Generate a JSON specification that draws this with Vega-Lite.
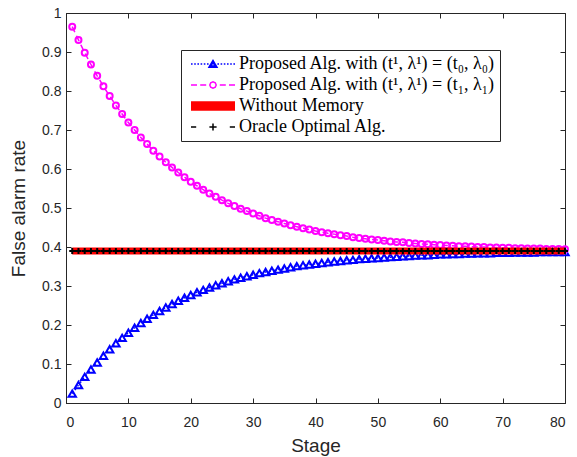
{
  "$schema": "https://vega.github.io/schema/vega-lite/v6.json",
  "width": 499,
  "height": 390,
  "autosize": "none",
  "padding": {"left": 66, "top": 13, "right": 12, "bottom": 54},
  "background": "white",
  "config": {
    "view": {"stroke": "#262626", "strokeWidth": 1},
    "axis": {
      "labelFont": "Liberation Sans", "labelFontSize": 14, "labelColor": "#262626",
      "titleFont": "Liberation Sans", "titleFontSize": 19, "titleFontWeight": "normal", "titleColor": "#262626",
      "domainColor": "#262626", "tickColor": "#262626", "tickSize": -5, "grid": false
    },
    "legend": {"labelFont": "Liberation Serif", "labelFontSize": 18, "labelColor": "#000000"}
  },
  "data": {"values": [
    {"stage":1,"a":0.024,"b":0.965,"c":0.39},{"stage":2,"a":0.046,"b":0.931,"c":0.39},{"stage":3,"a":0.067,"b":0.898,"c":0.39},{"stage":4,"a":0.086,"b":0.868,"c":0.39},
    {"stage":5,"a":0.104,"b":0.839,"c":0.39},{"stage":6,"a":0.121,"b":0.812,"c":0.39},{"stage":7,"a":0.138,"b":0.787,"c":0.39},{"stage":8,"a":0.153,"b":0.763,"c":0.39},
    {"stage":9,"a":0.167,"b":0.741,"c":0.39},{"stage":10,"a":0.180,"b":0.719,"c":0.39},{"stage":11,"a":0.193,"b":0.700,"c":0.39},{"stage":12,"a":0.205,"b":0.681,"c":0.39},
    {"stage":13,"a":0.216,"b":0.664,"c":0.39},{"stage":14,"a":0.226,"b":0.647,"c":0.39},{"stage":15,"a":0.236,"b":0.632,"c":0.39},{"stage":16,"a":0.245,"b":0.617,"c":0.39},
    {"stage":17,"a":0.254,"b":0.604,"c":0.39},{"stage":18,"a":0.262,"b":0.591,"c":0.39},{"stage":19,"a":0.270,"b":0.579,"c":0.39},{"stage":20,"a":0.277,"b":0.567,"c":0.39},
    {"stage":21,"a":0.284,"b":0.557,"c":0.39},{"stage":22,"a":0.290,"b":0.547,"c":0.39},{"stage":23,"a":0.296,"b":0.537,"c":0.39},{"stage":24,"a":0.302,"b":0.529,"c":0.39},
    {"stage":25,"a":0.307,"b":0.520,"c":0.39},{"stage":26,"a":0.312,"b":0.512,"c":0.39},{"stage":27,"a":0.317,"b":0.505,"c":0.39},{"stage":28,"a":0.321,"b":0.498,"c":0.39},
    {"stage":29,"a":0.325,"b":0.492,"c":0.39},{"stage":30,"a":0.329,"b":0.486,"c":0.39},{"stage":31,"a":0.333,"b":0.480,"c":0.39},{"stage":32,"a":0.336,"b":0.474,"c":0.39},
    {"stage":33,"a":0.339,"b":0.469,"c":0.39},{"stage":34,"a":0.342,"b":0.465,"c":0.39},{"stage":35,"a":0.345,"b":0.460,"c":0.39},{"stage":36,"a":0.348,"b":0.456,"c":0.39},
    {"stage":37,"a":0.351,"b":0.452,"c":0.39},{"stage":38,"a":0.353,"b":0.448,"c":0.39},{"stage":39,"a":0.355,"b":0.445,"c":0.39},{"stage":40,"a":0.357,"b":0.441,"c":0.39},
    {"stage":41,"a":0.359,"b":0.438,"c":0.39},{"stage":42,"a":0.361,"b":0.435,"c":0.39},{"stage":43,"a":0.363,"b":0.433,"c":0.39},{"stage":44,"a":0.364,"b":0.430,"c":0.39},
    {"stage":45,"a":0.366,"b":0.428,"c":0.39},{"stage":46,"a":0.367,"b":0.425,"c":0.39},{"stage":47,"a":0.369,"b":0.423,"c":0.39},{"stage":48,"a":0.370,"b":0.421,"c":0.39},
    {"stage":49,"a":0.371,"b":0.419,"c":0.39},{"stage":50,"a":0.372,"b":0.418,"c":0.39},{"stage":51,"a":0.373,"b":0.416,"c":0.39},{"stage":52,"a":0.374,"b":0.414,"c":0.39},
    {"stage":53,"a":0.375,"b":0.413,"c":0.39},{"stage":54,"a":0.376,"b":0.412,"c":0.39},{"stage":55,"a":0.377,"b":0.410,"c":0.39},{"stage":56,"a":0.378,"b":0.409,"c":0.39},
    {"stage":57,"a":0.379,"b":0.408,"c":0.39},{"stage":58,"a":0.379,"b":0.407,"c":0.39},{"stage":59,"a":0.380,"b":0.406,"c":0.39},{"stage":60,"a":0.381,"b":0.405,"c":0.39},
    {"stage":61,"a":0.381,"b":0.404,"c":0.39},{"stage":62,"a":0.382,"b":0.403,"c":0.39},{"stage":63,"a":0.382,"b":0.402,"c":0.39},{"stage":64,"a":0.383,"b":0.402,"c":0.39},
    {"stage":65,"a":0.383,"b":0.401,"c":0.39},{"stage":66,"a":0.384,"b":0.400,"c":0.39},{"stage":67,"a":0.384,"b":0.400,"c":0.39},{"stage":68,"a":0.384,"b":0.399,"c":0.39},
    {"stage":69,"a":0.385,"b":0.399,"c":0.39},{"stage":70,"a":0.385,"b":0.398,"c":0.39},{"stage":71,"a":0.385,"b":0.398,"c":0.39},{"stage":72,"a":0.386,"b":0.397,"c":0.39},
    {"stage":73,"a":0.386,"b":0.397,"c":0.39},{"stage":74,"a":0.386,"b":0.396,"c":0.39},{"stage":75,"a":0.386,"b":0.396,"c":0.39},{"stage":76,"a":0.387,"b":0.396,"c":0.39},
    {"stage":77,"a":0.387,"b":0.395,"c":0.39},{"stage":78,"a":0.387,"b":0.395,"c":0.39},{"stage":79,"a":0.387,"b":0.395,"c":0.39},{"stage":80,"a":0.387,"b":0.394,"c":0.39}
  ]},
  "resolve": {"axis": {"x": "independent", "y": "independent"}},
  "layer": [
    {
      "mark": {"type": "line", "color": "#0000ff", "strokeWidth": 1.5, "strokeDash": [1.5, 3]},
      "encoding": {
        "x": {"field": "stage", "type": "quantitative", "scale": {"domain": [0, 80], "nice": false},
              "axis": {"orient": "bottom", "title": "Stage", "values": [0,10,20,30,40,50,60,70,80], "labelPadding": 17, "titlePadding": 7}},
        "y": {"field": "a", "type": "quantitative", "scale": {"domain": [0, 1], "nice": false},
              "axis": {"orient": "left", "title": "False alarm rate", "values": [0,0.1,0.2,0.3,0.4,0.5,0.6,0.7,0.8,0.9,1], "format": "~g", "labelPadding": 10, "titlePadding": 13}}
      }
    },
    {
      "mark": {"type": "point", "shape": "triangle-up", "filled": false, "stroke": "#0000ff", "strokeWidth": 2, "size": 55, "opacity": 1},
      "encoding": {
        "x": {"field": "stage", "type": "quantitative",
              "axis": {"orient": "top", "labels": false, "title": null, "domain": false, "values": [0,10,20,30,40,50,60,70,80]}},
        "y": {"field": "a", "type": "quantitative",
              "axis": {"orient": "right", "labels": false, "title": null, "domain": false, "values": [0,0.1,0.2,0.3,0.4,0.5,0.6,0.7,0.8,0.9,1]}}
      }
    },
    {
      "mark": {"type": "line", "color": "#ff00ff", "strokeWidth": 1.5, "strokeDash": [6, 4]},
      "encoding": {
        "x": {"field": "stage", "type": "quantitative", "axis": null},
        "y": {"field": "b", "type": "quantitative", "axis": null}
      }
    },
    {
      "mark": {"type": "point", "shape": "circle", "filled": false, "stroke": "#ff00ff", "strokeWidth": 2, "size": 36, "opacity": 1},
      "encoding": {
        "x": {"field": "stage", "type": "quantitative", "axis": null},
        "y": {"field": "b", "type": "quantitative", "axis": null}
      }
    },
    {
      "mark": {"type": "line", "color": "#ff0000", "strokeWidth": 7},
      "encoding": {
        "x": {"field": "stage", "type": "quantitative", "axis": null},
        "y": {"field": "c", "type": "quantitative", "axis": null}
      }
    },
    {
      "mark": {"type": "line", "color": "#000000", "strokeWidth": 2, "strokeDash": [6, 5]},
      "encoding": {
        "x": {"field": "stage", "type": "quantitative", "axis": null},
        "y": {"field": "c", "type": "quantitative", "axis": null}
      }
    },
    {
      "mark": {"type": "point", "shape": "M-1,0H1M0,-1V1", "filled": false, "stroke": "#000000", "strokeWidth": 2, "size": 36, "opacity": 1},
      "encoding": {
        "x": {"field": "stage", "type": "quantitative", "axis": null},
        "y": {"field": "c", "type": "quantitative", "axis": null}
      }
    },
    {
      "data": {"values": []},
      "mark": {"type": "point", "filled": false, "strokeWidth": 1.5, "size": 64, "opacity": 1},
      "encoding": {
        "stroke": {"field": "series", "type": "nominal",
          "scale": {"domain": ["Proposed Alg. with (t¹, λ¹) = (t₀, λ₀)", "Proposed Alg. with (t¹, λ¹) = (t₁, λ₁)", "Without Memory", "Oracle Optimal Alg."],
                    "range": ["#0000ff", "#ff00ff", "#ff0000", "#000000"]},
          "legend": {"title": null, "labelFont": "Liberation Serif"}},
        "shape": {"field": "series", "type": "nominal",
          "scale": {"domain": ["Proposed Alg. with (t¹, λ¹) = (t₀, λ₀)", "Proposed Alg. with (t¹, λ¹) = (t₁, λ₁)", "Without Memory", "Oracle Optimal Alg."],
                    "range": [
                      "M-5.5,0h0.4M-4.7,0h0.4M-3.9,0h0.4M-3.1,0h0.4M-2.3,0h0.4M-1.5,0h0.4M1.1,0h0.4M1.9,0h0.4M2.7,0h0.4M3.5,0h0.4M4.3,0h0.4M5.1,0h0.4M-1,0.8L0,-0.9L1,0.8ZM-0.5,0.5L0,-0.4L0.5,0.5Z",
                      "M-5.5,0H-4M-3.2,0H-1.7M1.7,0H3.2M4,0H5.5M0.8,0L0.57,0.57L0,0.8L-0.57,0.57L-0.8,0L-0.57,-0.57L0,-0.8L0.57,-0.57Z",
                      "M-5.5,-1H5.5M-5.5,-0.75H5.5M-5.5,-0.5H5.5M-5.5,-0.25H5.5M-5.5,0H5.5M-5.5,0.25H5.5M-5.5,0.5H5.5M-5.5,0.75H5.5M-5.5,1H5.5",
                      "M-5.5,0H-4.2M4.2,0H5.5M-0.9,0H0.9M0,-0.9V0.9"
                    ]},
          "legend": {"title": null, "orient": "none", "legendX": 115, "legendY": 37,
                     "labelFont": "Liberation Serif", "labelFontSize": 18, "labelColor": "#000000", "labelLimit": 400,
                     "symbolSize": 64, "symbolStrokeWidth": 1.5, "symbolOffset": 18, "symbolOpacity": 1, "labelOffset": 17,
                     "strokeColor": "#262626", "fillColor": "#ffffff", "padding": 5, "rowPadding": 3}}
      }
    }
  ]
}
